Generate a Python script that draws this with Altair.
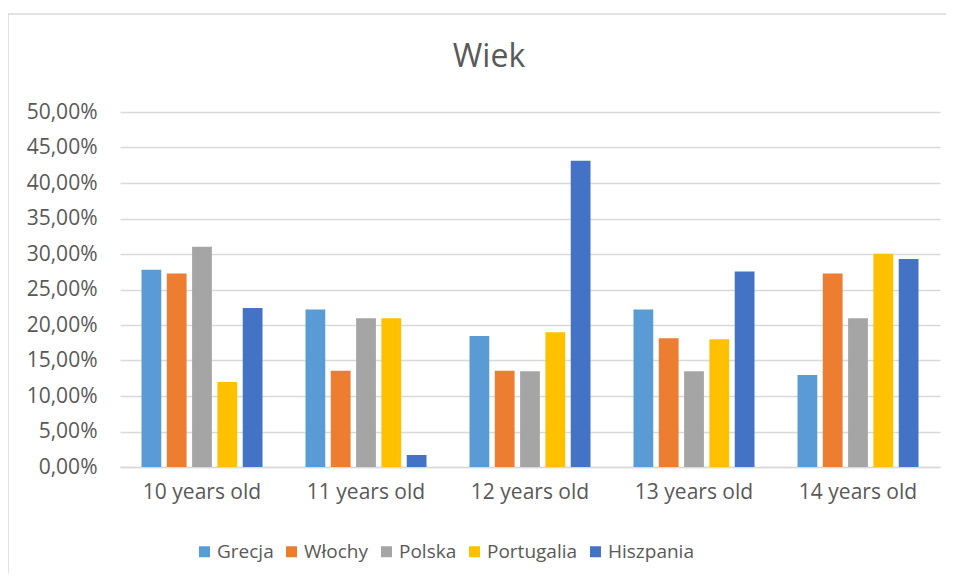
import altair as alt
import pandas as pd

categories = ["10 years old", "11 years old", "12 years old", "13 years old", "14 years old"]
series = ["Grecja", "Włochy", "Polska", "Portugalia", "Hiszpania"]
grecja = [27.78, 22.18, 18.46, 22.18, 12.95]
wlochy = [27.26, 13.56, 13.56, 18.13, 27.26]
polska = [31.03, 20.95, 13.47, 13.47, 20.95]
portugalia = [11.96, 20.95, 18.97, 17.98, 30.04]
hiszpania = [22.41, 1.69, 43.13, 27.54, 29.28]
colors = ["#5B9BD5", "#ED7D31", "#A5A5A5", "#FFC000", "#4472C4"]
y_ticks = [0, 0.05, 0.10, 0.15, 0.20, 0.25, 0.30, 0.35, 0.40, 0.45, 0.50]
title_text = ["Wiek"]

rows = []
for name, vals in zip(series, [grecja, wlochy, polska, portugalia, hiszpania]):
    for cat, v in zip(categories, vals):
        rows.append({"age": cat, "country": name, "value": v / 100.0})
df = pd.DataFrame(rows)

FONT = "Open Sans"
TXT = "#595959"
GRID = "#D9D9D9"

bars = alt.Chart(df).mark_bar().encode(
    x=alt.X("age:N", sort=categories,
            scale=alt.Scale(paddingInner=0.262, paddingOuter=0.131),
            axis=alt.Axis(title=None, labelAngle=0, labelFontSize=21, labelColor=TXT,
                          labelFont=FONT, labelPadding=14, ticks=False,
                          domainColor=GRID, domainWidth=1.5)),
    xOffset=alt.XOffset("country:N", sort=series,
                        scale=alt.Scale(paddingInner=0.218, paddingOuter=0)),
    y=alt.Y("value:Q", scale=alt.Scale(domain=[0, 0.5], nice=False),
            axis=alt.Axis(title=None, values=y_ticks, labelFontSize=21, labelColor=TXT,
                          labelFont=FONT, labelPadding=23, ticks=False, domain=False,
                          gridColor=GRID, gridWidth=1.5,
                          labelExpr="replace(format(datum.value, '.2%'), '.', ',')")),
    color=alt.Color("country:N", sort=series,
                    scale=alt.Scale(domain=series, range=colors),
                    legend=alt.Legend(title=None, orient="none", direction="horizontal",
                                      legendX=75, legendY=430, symbolType="square",
                                      symbolSize=121, symbolStrokeWidth=0,
                                      labelFontSize=19, labelFont=FONT, labelColor=TXT,
                                      columnPadding=8, labelOffset=3)),
)

border = alt.Chart(pd.DataFrame({"a": [0]})).mark_rect(
    fill=None, stroke="#D9D9D9", strokeWidth=1.5
).encode(
    x=alt.value(-112), x2=alt.value(840), y=alt.value(-98), y2=alt.value(480)
)

title = alt.Chart(pd.DataFrame({"t": title_text})).mark_text(
    font=FONT, fontSize=32, color=TXT, align="center", baseline="alphabetic"
).encode(
    text="t:N", x=alt.value(369), y=alt.value(-45)
)

chart = alt.layer(border, bars, title).properties(
    width=820, height=355,
    autosize=alt.AutoSizeParams(type="none"),
    padding={"left": 112, "top": 104, "right": 6, "bottom": 106},
).configure_view(stroke=None)

chart.save("out.html", embed_options={"renderer": "svg", "actions": False})
